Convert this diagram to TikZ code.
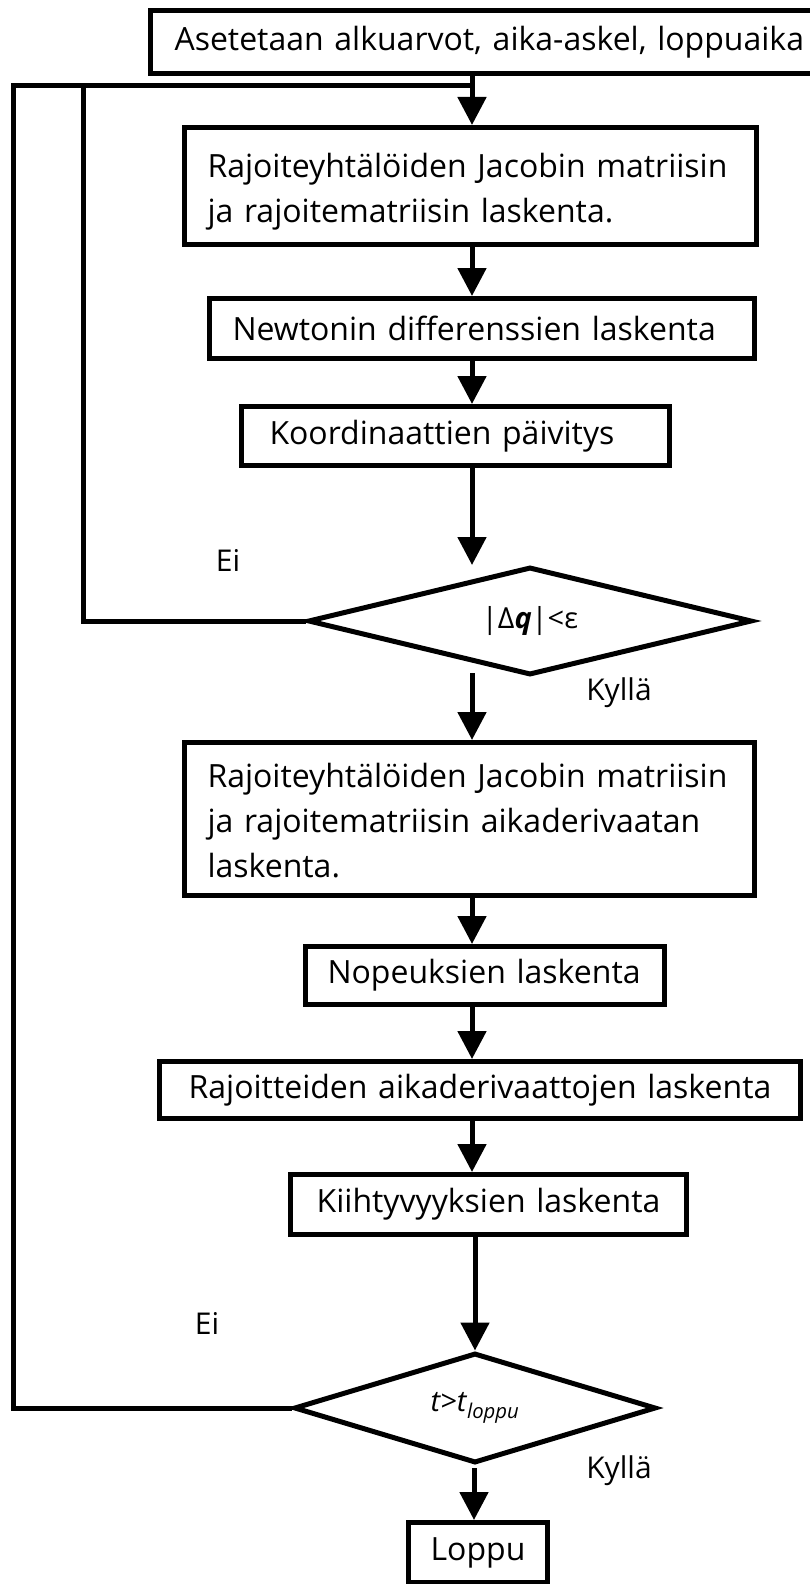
\documentclass[tikz,border=0pt]{standalone}
\usepackage{fontspec}
\setmainfont{Open Sans}
\usetikzlibrary{shapes.geometric,arrows.meta}

\begin{document}
\begin{tikzpicture}[x=1pt,y=-1pt,auto,
			line width=5pt,>={Triangle[width=28pt,length=28pt]},
			box node/.style={rectangle,draw,anchor=north west,inner ysep=0pt,align=left,font=\fontsize{32}{45}\selectfont},
			text box/.style={box node,inner xsep=23pt},
			choice node/.style={diamond,draw,inner sep=0pt,font=\fontsize{29}{34}\selectfont},
			note node/.style={font=\fontsize{30}{36}\selectfont}]
			
			\useasboundingbox (0,0) rectangle (810,1584);
			
			\node[box node,inner xsep=24pt,text width=660pt,minimum height=63pt] (Init) at (148,8) {Asetetaan alkuarvot, aika-askel, loppuaika};
			\node[text box,text width=526pt,text height=50pt,text depth=67pt] (Jac) at (182,125) {Rajoiteyhtälöiden Jacobin matriisin\\ja rajoitematriisin laskenta.};
			\node[box node,inner xsep=23pt,text width=499pt,minimum height=60pt] (Newton) at (207,296) {Newtonin differenssien laskenta};
			\node[box node,inner xsep=28pt,text width=372pt,minimum height=59pt] (Coord) at (239,404) {Koordinaattien päivitys};
			\node[choice node,aspect=4.1,minimum width=444pt,minimum height=108pt] (Test1) at (530,621) {|Δ\textbf{\textit{q}}|<ε};
			\node[text box,text width=524pt,text height=45pt,text depth=108pt] (DotJac) at (182,740) {Rajoiteyhtälöiden Jacobin matriisin\\ja rajoitematriisin aikaderivaatan\\laskenta.};
			\node[box node,inner xsep=22pt,text width=315pt,minimum height=58pt] (Vel) at (303,944) {Nopeuksien laskenta};
			\node[box node,inner xsep=10pt,text width=621pt,align=center,minimum height=57pt] (DotCon) at (157,1059) {Rajoitteiden aikaderivaattojen laskenta};
			\node[box node,inner xsep=10pt,text width=376pt,align=center,minimum height=60pt] (Acc) at (288,1172) {Kiihtyvyyksien laskenta};
			\node[choice node,aspect=3.3,minimum width=362pt,minimum height=110pt] (Test2) at (475,1408) {\textit{t>t}\textsubscript{\textit{loppu}}};
			\node[box node,inner xsep=10pt,text width=119pt,align=center,minimum height=60pt] (End) at (406,1520) {Loppu};
			
			\node[note node] (No1) at (228,560) {Ei};
			\node[note node] (Yes1) at (619,693) {Kyllä};
			\node[note node] (No2) at (207,1323) {Ei};
			\node[note node] (Yes2) at (619,1471) {Kyllä};
			
			\coordinate (Merge) at (472,86);
			\coordinate (InnerTop) at (83,86);
			\coordinate (OuterTop) at (13,86);
			\coordinate (Test1in) at (472,565);
			\coordinate (Test1out) at (472,673);
			\coordinate (Test2out) at (474,1468);
			
			\path
			(Init.south -| Merge) edge [->] (Jac.north -| Merge)
			(Jac.south -| Merge) edge [->] (Newton.north -| Merge)
			(Newton.south -| Merge) edge [->] (Coord.north -| Merge)
			(Coord.south -| Merge) edge [->] (Test1in)
			(Test1out) edge [->] (DotJac.north -| Test1out)
			(DotJac.south -| Merge) edge [->] (Vel.north -| Merge)
			(Vel.south -| Merge) edge [->] (DotCon.north -| Merge)
			(DotCon.south -| Merge) edge [->] (Acc.north -| Merge)
			(Acc.south -| Test2.north) edge [->] (Test2.north)
			(Test2out) edge [->] (End.north -| Test2out);
			
			\draw (Test1.west) -| (InnerTop) -- (Merge);
			\draw (Test2.west) -| (OuterTop) -- (InnerTop);
\end{tikzpicture}
\end{document}
